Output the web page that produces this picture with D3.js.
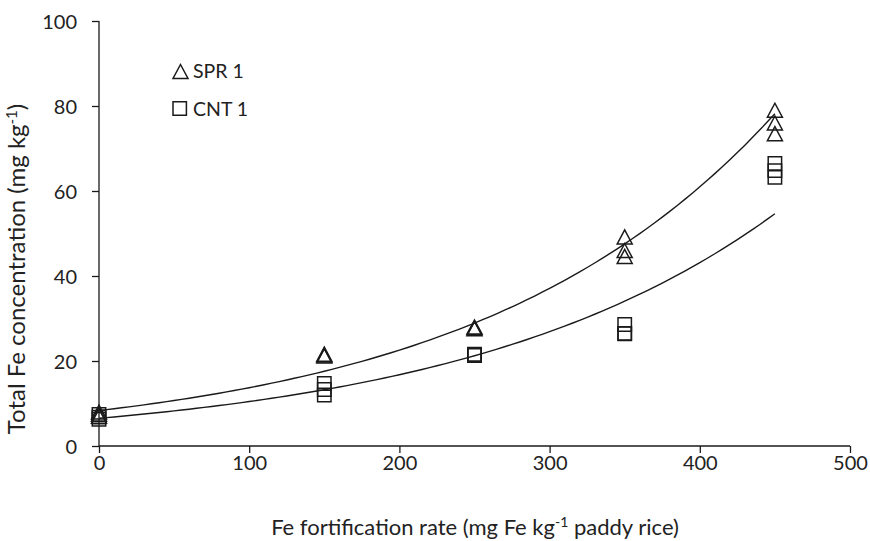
<!DOCTYPE html>
<html>
<head>
<meta charset="utf-8">
<script src="https://cdn.jsdelivr.net/npm/d3@7"></script>
<style>
  html, body { margin: 0; padding: 0; background: #fff; }
  svg { display: block; font-family: Lato, "Open Sans", sans-serif; }
</style>
</head>
<body>
<svg id="chart" width="870" height="541"></svg>
<script>
// Fe fortification rate (mg Fe per kg paddy rice) for each replicate
const sprRate = [0, 0, 0, 150, 150, 150, 250, 250, 250, 350, 350, 350, 450, 450, 450];
// Total Fe concentration (mg/kg), SPR 1
const sprFe   = [7, 7.5, 8, 21.6, 21.4, 21.2, 27.6, 28, 27.8, 49.2, 46, 44.6, 79, 76, 73.5];

const cntRate = [0, 0, 0, 150, 150, 150, 250, 250, 250, 350, 350, 350, 450, 450, 450];
// Total Fe concentration (mg/kg), CNT 1
const cntFe   = [6.3, 6.8, 7.4, 14.7, 13.3, 12.0, 21.6, 21.3, 21.4, 28.6, 26.4, 26.5, 66.5, 64.8, 63.2];

const xTicks = [0, 100, 200, 300, 400, 500];
const yTicks = [0, 20, 40, 60, 80, 100];

const svg = d3.select("#chart");

const x = d3.scaleLinear().domain([0, 500]).range([99, 850]);
const y = d3.scaleLinear().domain([0, 100]).range([446, 21]);

const ink = "#1a1a1a";
const textInk = "#222";

// Axes
const xAxis = d3.axisBottom(x).tickValues(xTicks).tickSize(7).tickPadding(3).tickFormat(d3.format("d"));
const yAxis = d3.axisLeft(y).tickValues(yTicks).tickSize(7).tickPadding(15).tickFormat(d3.format("d"));

const gx = svg.append("g").attr("transform", `translate(0,${y(0)})`).call(xAxis);
const gy = svg.append("g").attr("transform", `translate(${x(0)},0)`).call(yAxis);

[gx, gy].forEach(g => {
  g.select(".domain").attr("stroke", ink).attr("stroke-width", 1.3);
  g.selectAll(".tick line").attr("stroke", ink).attr("stroke-width", 1.3);
  g.selectAll(".tick text").attr("fill", textInk)
    .style("font-size", "20px").style("font-family", "Lato, sans-serif");
});
gy.select(".domain").attr("d", `M0,${y(100)}V${y(0)}`);
gx.select(".domain").attr("d", `M${x(0)},0H${x(500)}`);
gy.selectAll(".tick text").attr("dy", "0.36em");

// Exponential least-squares fit (log-linear), y = a * exp(b x)
function expFit(xs, ys) {
  const n = xs.length;
  const ly = ys.map(v => Math.log(v));
  const mx = d3.mean(xs), my = d3.mean(ly);
  let sxy = 0, sxx = 0;
  for (let i = 0; i < n; i++) {
    sxy += (xs[i] - mx) * (ly[i] - my);
    sxx += (xs[i] - mx) * (xs[i] - mx);
  }
  const b = sxy / sxx;
  const a = Math.exp(my - b * mx);
  return t => a * Math.exp(b * t);
}

const line = d3.line().x(d => x(d[0])).y(d => y(d[1]));
const curveX = d3.range(0, 451, 5);

[[sprRate, sprFe], [cntRate, cntFe]].forEach(([xs, ys]) => {
  const f = expFit(xs, ys);
  svg.append("path")
    .datum(curveX.map(t => [t, f(t)]))
    .attr("d", line)
    .attr("fill", "none")
    .attr("stroke", ink)
    .attr("stroke-width", 1.4);
});

// Marker shapes, centred on their bounding box
const triPath = "M0,-7L7.5,7L-7.5,7Z";
const sqPath = "M-6.7,-6.7H6.7V6.7H-6.7Z";

svg.append("g").selectAll("path")
  .data(d3.zip(sprRate, sprFe))
  .join("path")
  .attr("d", triPath)
  .attr("transform", d => `translate(${x(d[0])},${y(d[1])})`)
  .attr("fill", "none").attr("stroke", ink).attr("stroke-width", 1.5);

svg.append("g").selectAll("path")
  .data(d3.zip(cntRate, cntFe))
  .join("path")
  .attr("d", sqPath)
  .attr("transform", d => `translate(${x(d[0])},${y(d[1])})`)
  .attr("fill", "none").attr("stroke", ink).attr("stroke-width", 1.5);

// Legend
const legend = svg.append("g");
legend.append("path").attr("d", triPath).attr("transform", "translate(180.5,71.5)")
  .attr("fill", "none").attr("stroke", ink).attr("stroke-width", 1.5);
legend.append("text").attr("x", 193).attr("y", 78).text("SPR 1")
  .style("font-size", "19.5px").attr("fill", textInk);
legend.append("path").attr("d", sqPath).attr("transform", "translate(179.7,108.5)")
  .attr("fill", "none").attr("stroke", ink).attr("stroke-width", 1.5);
legend.append("text").attr("x", 193).attr("y", 115.5).text("CNT 1")
  .style("font-size", "19.5px").attr("fill", textInk);

// Axis titles
const xt = svg.append("text").attr("x", 475).attr("y", 535).attr("text-anchor", "middle")
  .style("font-size", "22px").attr("fill", textInk);
xt.append("tspan").text("Fe fortification rate (mg Fe kg");
xt.append("tspan").attr("dy", -8).style("font-size", "14px").text("-1");
xt.append("tspan").attr("dy", 8).text(" paddy rice)");

const yt = svg.append("text").attr("transform", "translate(25,269) rotate(-90)")
  .attr("text-anchor", "middle").style("font-size", "24px").attr("fill", textInk);
yt.append("tspan").text("Total Fe concentration (mg kg");
yt.append("tspan").attr("dy", -8).style("font-size", "15px").text("-1");
yt.append("tspan").attr("dy", 8).text(")");
</script>
</body>
</html>
